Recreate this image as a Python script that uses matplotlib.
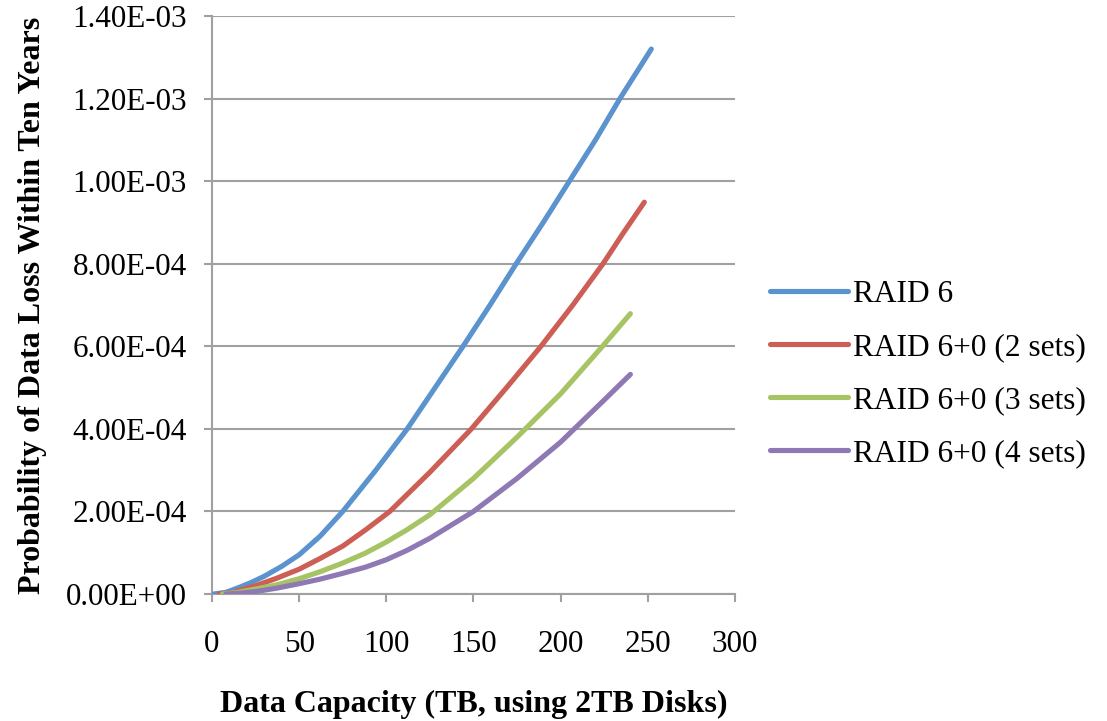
import matplotlib.pyplot as plt
from matplotlib.ticker import FuncFormatter, MultipleLocator

plt.rcParams['font.family'] = ['Liberation Serif', 'DejaVu Serif']

# Data capacity (TB) and probability of data loss within ten years
raid6_x = [1, 8, 15, 22, 30, 40, 50, 62, 75, 94, 112, 128, 144, 159.5, 174.5, 190, 205, 220, 234, 252]
raid6_y = [0, 4e-6, 1.5e-5, 2.7e-5, 4.3e-5, 6.7e-5, 9.5e-5, 1.4e-4, 2.0e-4, 3.0e-4, 4.0e-4,
           5.0e-4, 6.0e-4, 7.0e-4, 8.0e-4, 9.0e-4, 1.0e-3, 1.1e-3, 1.2e-3, 1.32e-3]

raid60_2_x = [4, 12, 25, 37, 50, 62, 75, 88, 102, 125, 148.8, 169, 188.7, 207, 224.3, 236, 248]
raid60_2_y = [0, 4e-6, 2e-5, 3.8e-5, 6e-5, 8.6e-5, 1.16e-4, 1.55e-4, 2e-4, 2.95e-4, 4e-4,
              5e-4, 6e-4, 7e-4, 8e-4, 8.75e-4, 9.49e-4]

raid60_3_x = [6, 15, 25, 37, 50, 62, 75, 88, 100, 112, 125, 150, 175, 200, 224, 240]
raid60_3_y = [0, 4e-6, 1.2e-5, 2.2e-5, 3.7e-5, 5.4e-5, 7.5e-5, 9.9e-5, 1.26e-4, 1.56e-4,
              1.92e-4, 2.8e-4, 3.8e-4, 4.85e-4, 6.0e-4, 6.79e-4]

raid60_4_x = [8, 16, 25, 37, 50, 62, 75, 88, 100, 112, 125, 150, 175, 200, 225, 240]
raid60_4_y = [0, 2e-6, 6e-6, 1.4e-5, 2.5e-5, 3.6e-5, 5.0e-5, 6.5e-5, 8.3e-5, 1.06e-4,
              1.35e-4, 2.0e-4, 2.8e-4, 3.68e-4, 4.7e-4, 5.32e-4]

labels = ['RAID 6', 'RAID 6+0 (2 sets)', 'RAID 6+0 (3 sets)', 'RAID 6+0 (4 sets)']
colors = ['#5B93CE', '#CD5E55', '#A6C464', '#8E79B5']

fig = plt.figure(figsize=(11.07, 7.21), dpi=100)
ax = fig.add_axes([212 / 1107, 1 - 594 / 721, (735 - 212) / 1107, (594 - 16) / 721])

series = [(raid6_x, raid6_y), (raid60_2_x, raid60_2_y),
          (raid60_3_x, raid60_3_y), (raid60_4_x, raid60_4_y)]
for (xs, ys), lab, col in zip(series, labels, colors):
    ax.plot(xs, ys, color=col, lw=3.7, label=lab, solid_capstyle='round', zorder=3)

ax.set_xlim(0, 300)
ax.set_ylim(0, 1.4e-3)
ax.xaxis.set_major_locator(MultipleLocator(50))
ax.yaxis.set_major_locator(MultipleLocator(2e-4))
ax.yaxis.set_major_formatter(FuncFormatter(lambda v, p: f"{v:.2E}"))

grid_col = '#A0A0A0'
ax.grid(True, axis='y', color=grid_col, lw=1.5)
ax.set_axisbelow(True)
for s in ['top', 'right']:
    ax.spines[s].set_visible(False)
for s in ['left', 'bottom']:
    ax.spines[s].set_color(grid_col)
    ax.spines[s].set_linewidth(1.5)

ax.tick_params(axis='both', colors=grid_col, labelcolor='black', labelsize=22.4,
               length=6, width=1.5, direction='out')
ax.tick_params(axis='y', pad=12)
ax.tick_params(axis='x', pad=20)

ax.set_xlabel('Data Capacity (TB, using 2TB Disks)', fontsize=23, fontweight='bold', labelpad=22)
ax.set_ylabel('Probability of Data Loss Within Ten Years', fontsize=23, fontweight='bold', labelpad=14)

fig.legend(loc='center left', bbox_to_anchor=(770 / 1107, 1 - 374 / 721), frameon=False,
           fontsize=22.6, handlelength=2.5, handletextpad=0.15, labelspacing=0.77,
           borderpad=0, borderaxespad=0)

fig.savefig('out.png', dpi=100)
